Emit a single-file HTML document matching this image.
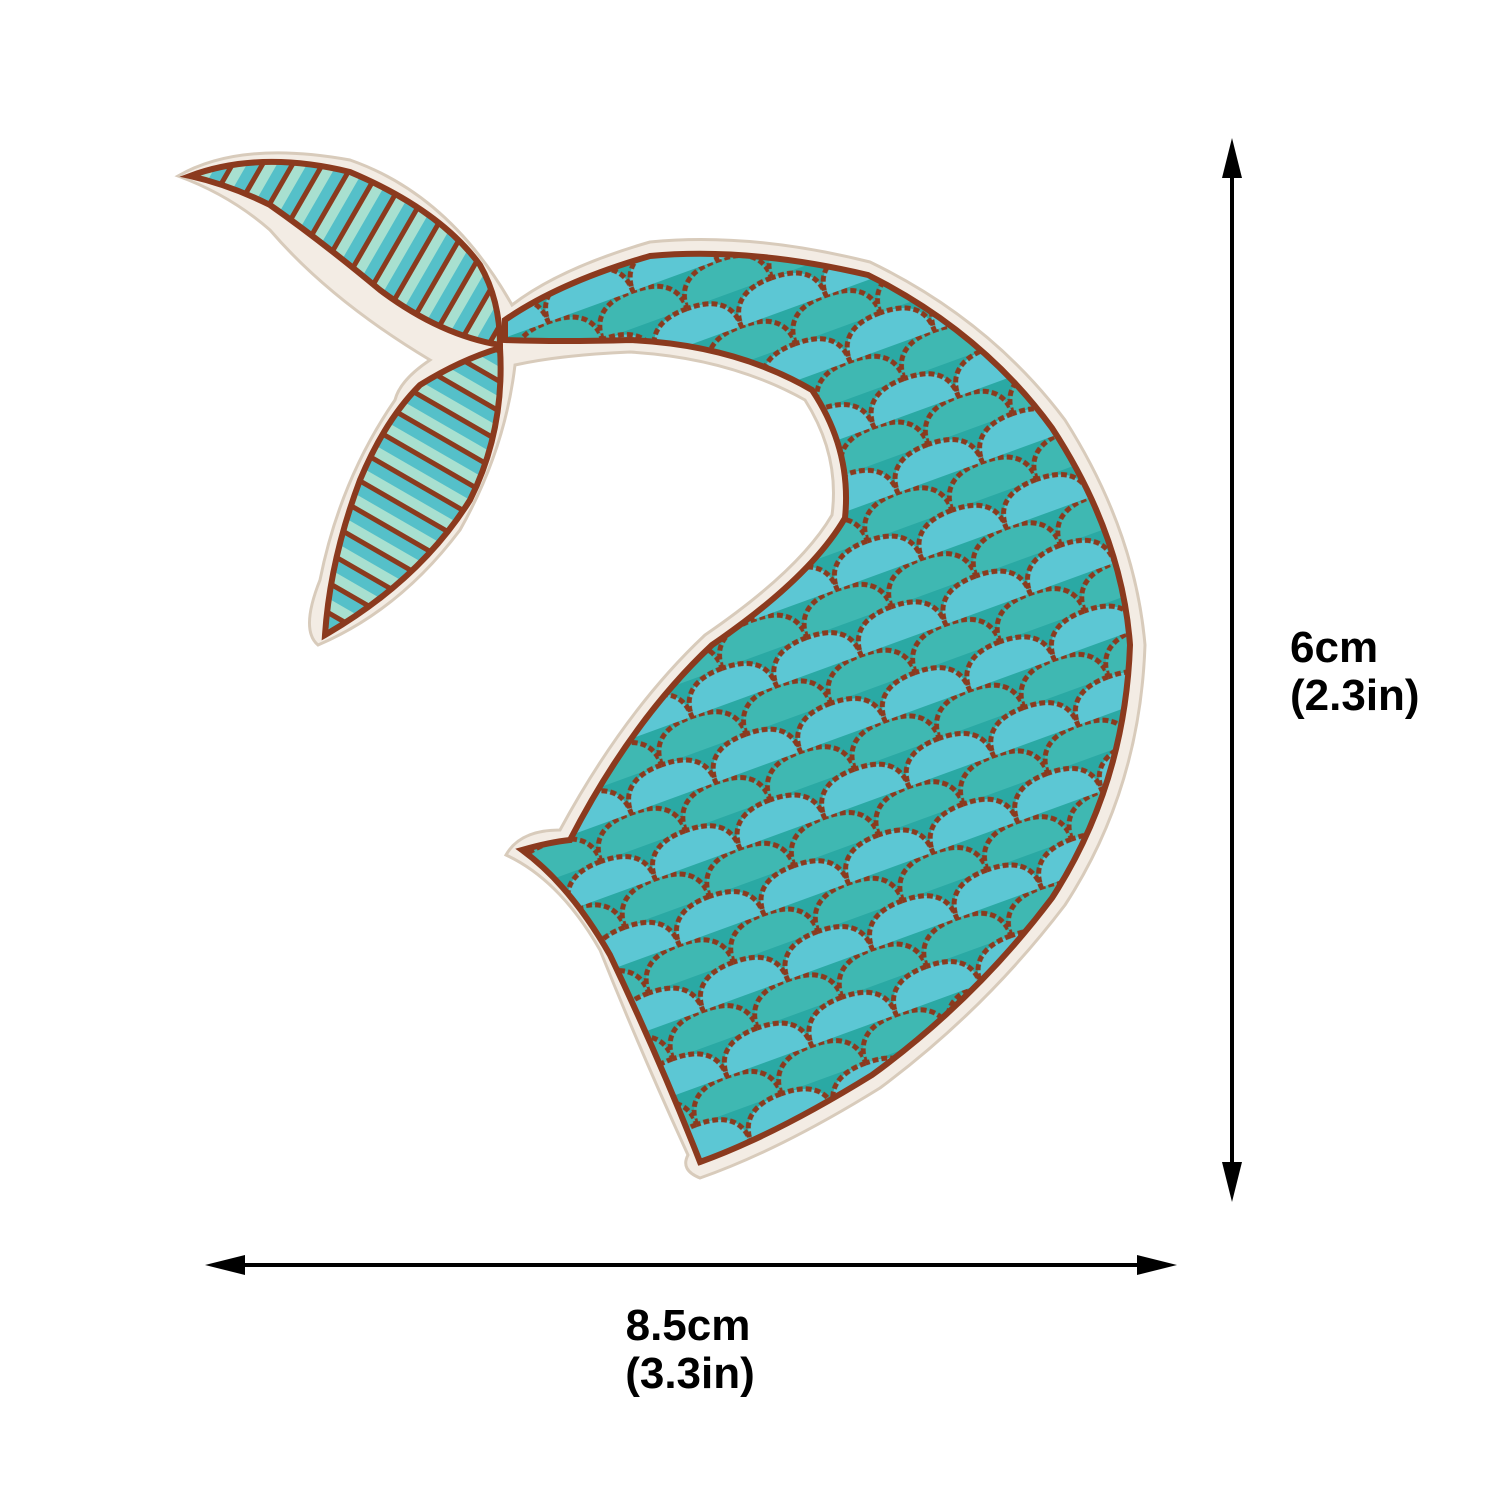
<!DOCTYPE html>
<html><head><meta charset="utf-8"><style>
html,body{margin:0;padding:0;background:#fff;width:1500px;height:1500px;overflow:hidden}
svg{display:block}
text{font-family:"Liberation Sans",sans-serif;font-weight:bold;fill:#000}
</style></head><body>
<svg width="1500" height="1500" viewBox="0 0 1500 1500">
<defs>
<pattern id="scales" width="90" height="70" patternUnits="userSpaceOnUse" patternTransform="rotate(-20)">
<rect width="90" height="70" fill="#2aa9a4"/>
<path d="M0 35 Q0 0 45 0 Q90 0 90 35 Z" fill="#3fb8b2"/>
<path d="M45 70 Q45 35 90 35 Q135 35 135 70 Z M-45 70 Q-45 35 0 35 Q45 35 45 70 Z" fill="#5cc7d4"/>
<path d="M0 35 Q0 0 45 0 Q90 0 90 35" fill="none" stroke="#8b3a1e" stroke-width="5" stroke-dasharray="6 3"/>
<path d="M-45 70 Q-45 35 0 35 Q45 35 45 70 Q45 35 90 35 Q135 35 135 70" fill="none" stroke="#8b3a1e" stroke-width="5" stroke-dasharray="6 3"/>
</pattern>
<pattern id="fin" width="26" height="26" patternUnits="userSpaceOnUse" patternTransform="rotate(30)">
<rect width="26" height="26" fill="#55c0c9"/>
<rect width="10" height="26" fill="#a8e0d0"/>
<rect x="21" width="5" height="26" fill="#8b3a1e"/>
</pattern>
<pattern id="fin2" width="26" height="26" patternUnits="userSpaceOnUse" patternTransform="rotate(-60)">
<rect width="26" height="26" fill="#55c0c9"/>
<rect width="10" height="26" fill="#a8e0d0"/>
<rect x="21" width="5" height="26" fill="#8b3a1e"/>
</pattern>
</defs>
<g>
<path fill="#f3ece4" stroke="#d8cbbb" stroke-width="3"
 d="M178 176 Q240 140 350 160 Q450 195 512 305 Q560 268 650 242 Q750 232 870 262 Q990 320 1065 420 Q1135 530 1145 645 Q1140 790 1065 905 Q985 1010 880 1088 Q780 1150 700 1178 Q680 1170 688 1155 Q640 1050 600 950 Q560 880 506 855 Q520 830 560 830 Q625 710 705 635 Q800 570 832 515 Q840 455 805 400 Q730 358 630 352 Q560 355 515 365 Q505 450 460 530 Q400 610 318 645 Q300 630 320 580 Q340 480 395 400 Q400 380 430 360 Q330 300 270 230 Q230 195 178 176 Z"/>
<path fill="url(#scales)" stroke="#8b3a1e" stroke-width="6"
 d="M505 320 Q560 282 650 256 Q750 247 868 275 Q982 332 1052 428 Q1122 535 1130 645 Q1125 785 1052 898 Q975 1000 872 1075 Q775 1135 700 1162 Q660 1060 610 955 Q570 885 522 850 Q550 842 570 840 Q632 720 712 645 Q810 578 845 518 Q852 450 812 390 Q735 345 630 340 Q560 342 505 340 Z"/>
<path fill="url(#fin)" stroke="#8b3a1e" stroke-width="6"
 d="M190 176 Q260 150 350 172 Q440 210 480 265 Q500 300 500 345 Q440 335 380 290 Q320 240 270 205 Q230 185 190 176 Z"/>
<path fill="url(#fin2)" stroke="#8b3a1e" stroke-width="6"
 d="M500 348 Q505 430 470 500 Q420 580 325 635 Q330 560 360 480 Q385 420 420 385 Q460 360 500 348 Z"/>
</g>
<g>
<line x1="1232" y1="165" x2="1232" y2="1175" stroke="#000" stroke-width="4"/>
<polygon points="1232,138 1222,178 1242,178" fill="#000"/>
<polygon points="1232,1202 1222,1162 1242,1162" fill="#000"/>
</g>
<g>
<line x1="230" y1="1265" x2="1150" y2="1265" stroke="#000" stroke-width="4"/>
<polygon points="205,1265 245,1255 245,1275" fill="#000"/>
<polygon points="1177,1265 1137,1255 1137,1275" fill="#000"/>
</g>
<text x="1290" y="662" font-size="44">6cm</text>
<text x="1290" y="710" font-size="44">(2.3in)</text>
<text x="688" y="1340" font-size="44" text-anchor="middle">8.5cm</text>
<text x="690" y="1388" font-size="44" text-anchor="middle">(3.3in)</text>
</svg>
</body></html>
